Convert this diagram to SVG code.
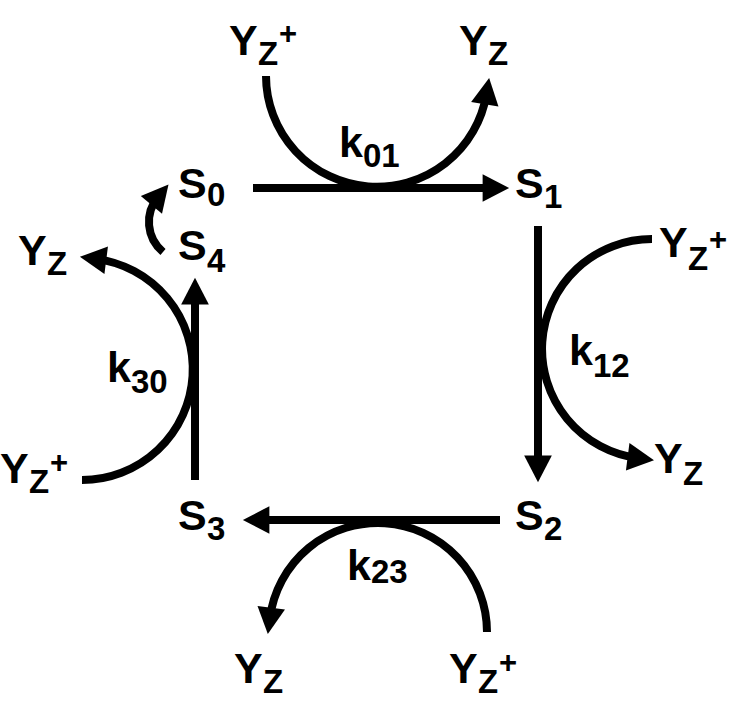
<svg xmlns="http://www.w3.org/2000/svg" width="730" height="706" viewBox="0 0 730 706">
<style>
text{font-family:"Liberation Sans",Arial,Helvetica,sans-serif;font-weight:bold;font-size:43px;fill:#000}
.s{font-size:33px}
.p{font-size:31px}
.c{fill:none;stroke:#000;stroke-width:8}
</style>
<defs>
<marker id="ah" markerUnits="userSpaceOnUse" markerWidth="30" markerHeight="30" viewBox="0 -13 24 26" refX="9" refY="0" orient="auto">
<path d="M0,-12 L23,0 L0,12 Z" fill="#000"/>
</marker>
</defs>
<rect width="730" height="706" fill="#fff"/>
<g id="connectors">
<path class="c" d="M253,188 H493" marker-end="url(#ah)"/>
<path class="c" d="M538,226 V466" marker-end="url(#ah)"/>
<path class="c" d="M500,520 H259" marker-end="url(#ah)"/>
<path class="c" d="M195,480 V294" marker-end="url(#ah)"/>
<path class="c" d="M266,76 A111,111 0 0 0 486.5,94" marker-end="url(#ah)"/>
<path class="c" d="M652,239 A110,110 0 0 0 638,458.1" marker-end="url(#ah)"/>
<path class="c" d="M487,632 A109,109 0 0 0 269.9,618" marker-end="url(#ah)"/>
<path class="c" d="M82,480 A111,111 0 0 0 95.9,258.9" marker-end="url(#ah)"/>
<path class="c" d="M163,252 A39,39 0 0 1 158.1,196.9" marker-end="url(#ah)"/>
</g>
<g id="S0"><text x="178" y="198">S<tspan class="s" x="207" y="206">0</tspan></text></g>
<g id="S1"><text x="515" y="198">S<tspan class="s" x="544" y="208">1</tspan></text></g>
<g id="S2"><text x="515" y="530">S<tspan class="s" x="544" y="540">2</tspan></text></g>
<g id="S3"><text x="178" y="530">S<tspan class="s" x="207" y="540">3</tspan></text></g>
<g id="S4"><text x="178" y="260">S<tspan class="s" x="207" y="272">4</tspan></text></g>
<g id="k01"><text x="339" y="157">k<tspan class="s" x="363" y="167">01</tspan></text></g>
<g id="k12"><text x="569" y="365">k<tspan class="s" x="593" y="377">12</tspan></text></g>
<g id="k23"><text x="347" y="580">k<tspan class="s" x="371" y="583">23</tspan></text></g>
<g id="k30"><text x="107" y="382">k<tspan class="s" x="131" y="393">30</tspan></text></g>
<g id="Yzplus_top"><text x="229" y="55">Y<tspan class="s" x="258" y="65">Z</tspan><tspan class="p" x="279" y="44">+</tspan></text></g>
<g id="Yz_top"><text x="459" y="55">Y<tspan class="s" x="488" y="65">Z</tspan></text></g>
<g id="Yzplus_right"><text x="659" y="257">Y<tspan class="s" x="688" y="270">Z</tspan><tspan class="p" x="709" y="250">+</tspan></text></g>
<g id="Yz_right"><text x="654" y="473">Y<tspan class="s" x="683" y="485">Z</tspan></text></g>
<g id="Yzplus_bottom"><text x="449" y="683">Y<tspan class="s" x="478" y="693">Z</tspan><tspan class="p" x="499" y="673">+</tspan></text></g>
<g id="Yz_bottom"><text x="234" y="683">Y<tspan class="s" x="263" y="693">Z</tspan></text></g>
<g id="Yzplus_left"><text x="0" y="483">Y<tspan class="s" x="29" y="493">Z</tspan><tspan class="p" x="50" y="473">+</tspan></text></g>
<g id="Yz_left"><text x="18" y="265">Y<tspan class="s" x="47" y="275">Z</tspan></text></g>
</svg>
